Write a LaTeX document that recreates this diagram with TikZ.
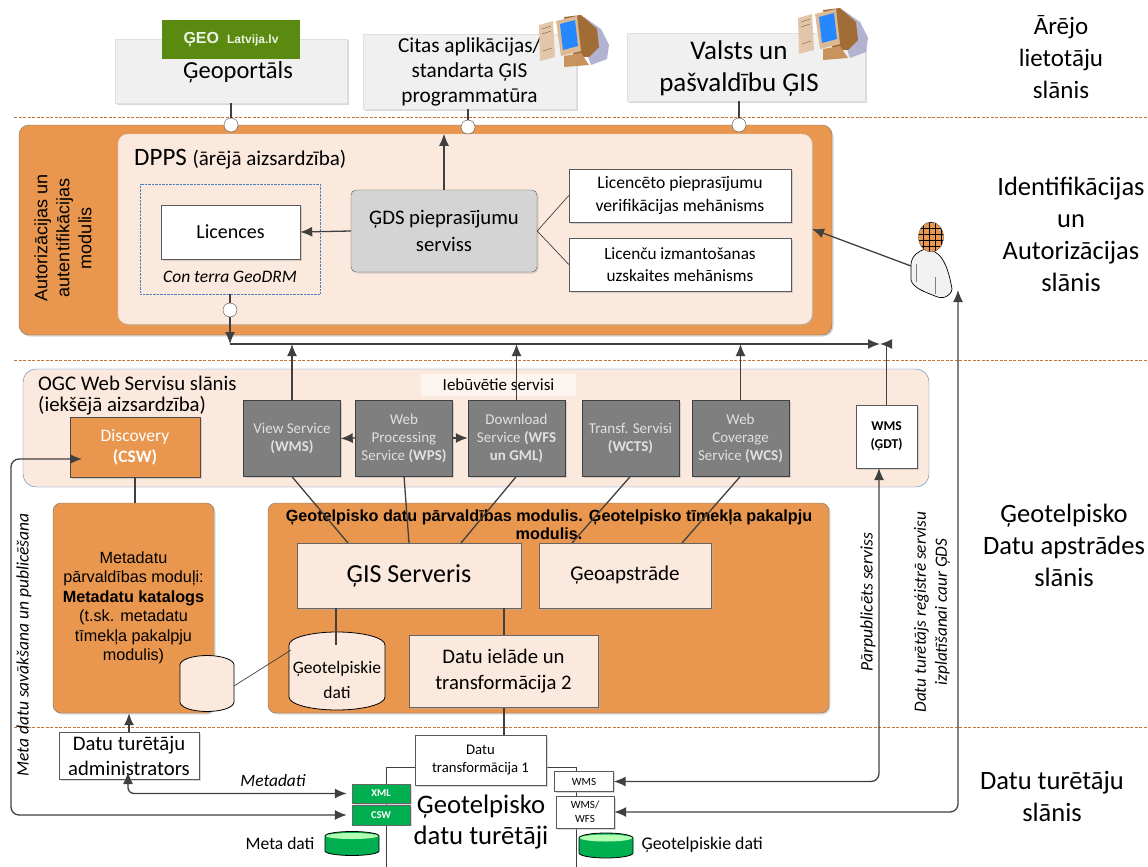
\documentclass[tikz,border=0pt]{standalone}
\usepackage{fontspec}
\setmainfont{Carlito}
\newfontfamily\arialfont{Liberation Sans}
\usetikzlibrary{arrows.meta,shadows}

\definecolor{oranzs}{HTML}{E9964F}
\definecolor{persiks}{HTML}{FBE9DD}
\definecolor{pelekais}{HTML}{7F7F7F}
\definecolor{lineja}{HTML}{404040}
\definecolor{zals}{HTML}{00B050}
\definecolor{zils}{HTML}{4F81BD}
\definecolor{logozals}{HTML}{5A8A0F}
\definecolor{raustita}{HTML}{C8773A}

\newcommand{\fsz}[2]{\fontsize{#1}{#2}\selectfont}
% center x, top y, bottom y, x radius, y radius, body colour, cap colour
\newcommand{\baze}[7]{
  \draw[fill = #6, line width=.8pt] (#1-#4,#2) -- (#1-#4,#3) arc [start angle=180, end angle=360, x radius=#4pt, y radius=#5pt]
    -- (#1+#4,#2) arc [start angle=0, end angle=180, x radius=#4pt, y radius=#5pt] -- cycle;
  \fill[#7] (#1,#2) ellipse [x radius=#4pt-1pt, y radius=#5pt-1.5pt];
}

\tikzset{x = 1pt, y = -1pt,
         >={Latex[length=12pt,width=10pt]},
         seno/.style = {drop shadow = {shadow xshift=1.5pt, shadow yshift=-1.5pt, fill=black!30}},
         slanis/.style = {draw = raustita, line width=.8pt, dash pattern=on 3pt off 1.5pt},
         savienot/.style = {draw = lineja, line width=1.3pt},
         plans/.style = {draw = lineja, line width=.7pt},
         areja/.style = {fill = black!6, draw = black!12, seno, align=center},
         modulis/.style = {fill = oranzs, draw = black!55, rounded corners=8pt, seno},
         gaisa/.style = {fill = persiks, draw = black!60, seno, align=center},
         balta/.style = {fill = white, draw = black!65, seno, align=center},
         serviss/.style = {fill = pelekais, draw = black!75, seno, align=center, text = black!12,
                           font = \fsz{15}{18}, minimum width=97pt, minimum height=76pt, inner sep=0pt},
         aplis/.style = {circle, fill = white, draw = black!70, minimum size=14pt, inner sep=0pt},
         zala/.style = {fill = zals, draw = black!60, text = white, font = \fsz{10.5}{12}\bfseries,
                        minimum width=58pt, minimum height=19.5pt, inner sep=0pt, seno},
         virsraksts/.style = {align=center},
         dators/.pic = {
           \fill[blue!40!black!30!white] (45,2) -- (62,14) -- (70,30) -- (68,44) -- (52,50) -- (45,30) -- cycle;
           \fill[brown!85!black] (25,2) -- (42,0) -- (58,14) -- (60,32) -- (50,42) -- (35,42) -- cycle;
           \fill[brown!55!white] (17,6) -- (38,1) -- (42,36) -- (22,41) -- cycle;
           \fill[blue!55!cyan!85!white] (21,9) -- (36,5) -- (39,31) -- (24,35) -- cycle;
           \fill[brown!45!white] (0,10) -- (14,6) -- (16,42) -- (1,46) -- cycle;
           \draw[brown!70!black] (3,14) -- (12,11) (3,19) -- (12,16) (4,36) -- (13,33);
           \fill[brown!85!white] (25,41) -- (42,38) -- (50,50) -- (25,52) -- cycle;
         },
         lietotajs/.pic = {
           \draw[fill = black!5, line width=.7pt] (0,42) .. controls (1,33) and (8,29) .. (14,27)
             .. controls (28,28) and (36,38) .. (41,67) .. controls (40,74) and (32,78) .. (24,74)
             .. controls (14,70) and (2,66) .. (0,58) -- cycle;
           \draw[black!50] (5,42) -- (5,60) (24,55) -- (24,72);
           \begin{scope}
             \clip (20,15) ellipse [x radius=12.5pt, y radius=15pt];
             \fill[oranzs] (5,0) rectangle (35,30);
             \draw[black, step=6pt, line width=.5pt] (5,0) grid (35,30);
           \end{scope}
           \draw[black!60] (20,15) ellipse [x radius=12.5pt, y radius=15pt];
         }
        }

\begin{document}
\begin{tikzpicture}
  \useasboundingbox (0,0) rectangle (1148,867);

  \draw[slanis] (14,117) -- (1148,117);
  \draw[slanis] (14,360) -- (1148,360);
  \draw[slanis] (14,727) -- (1148,727);

  \node[areja, minimum width=232pt, minimum height=64pt] (portals) at (231,71) {};
  \node[font=\fsz{24.5}{30}] (portalteksts) at (238,72) {Ģeoportāls};
  \node[fill = logozals, minimum width=138pt, minimum height=39pt, inner sep=0pt, text = white!90!logozals, font=\arialfont] (logo) at (231,39.5)
       {\fsz{16}{16}\bfseries ĢEO\hspace{6pt}\fsz{12}{12}\,Latvija.lv};
  \node[areja, minimum width=213pt, minimum height=67pt, font=\fsz{21.3}{25}] (citas) at (469.5,71.5) {Citas aplikācijas/\\standarta ĢIS\\programmatūra};
  \node[areja, minimum width=238pt, minimum height=68pt] (valsts) at (746,67) {};
  \node[align=center, font=\fsz{27}{32}] (valststeksts) at (739,69) {Valsts un\\pašvaldību ĢIS};
  \pic at (539,15) {dators};
  \pic at (798,8) {dators};

  \node[virsraksts, font=\fsz{25}{32}] (arejais) at (1061,57) {Ārējo\\lietotāju\\slānis};
  \node[virsraksts, font=\fsz{26.5}{32}] (ident) at (1071,234) {Identifikācijas\\un\\Autorizācijas\\slānis};
  \node[virsraksts, font=\fsz{26.5}{32}] (apstrade) at (1064,545) {Ģeotelpisko\\Datu apstrādes\\slānis};
  \node[virsraksts, font=\fsz{26.5}{32}] (turetaji) at (1052,796) {Datu turētāju\\slānis};

  \node[modulis, rounded corners=10pt, minimum width=813pt, minimum height=210pt] (autoriz) at (425.5,230) {};
  \node[fill = persiks, rounded corners=10pt, draw = black!15, seno, minimum width=694pt, minimum height=190pt] (dpps) at (465,229) {};
  \node[rotate=90, align=center, font=\arialfont\fsz{18}{22}] (autorizteksts) at (63,238) {Autorizācijas un\\autentifikācijas\\modulis};
  \node[anchor=west, inner sep=0pt] (dppsteksts) at (134,159) {\fsz{25}{30}DPPS \fsz{21}{24}(ārējā aizsardzība)};
  \node[fill = persiks, draw = zils, densely dotted, minimum width=180pt, minimum height=110pt] (drm) at (230,239) {};
  \node[balta, minimum width=139pt, minimum height=54pt, font=\fsz{20}{24}] (licences) at (230.5,232) {Licences};
  \node[font=\fsz{17.5}{18}\itshape] (drmteksts) at (230,277) {Con terra GeoDRM};
  \node[fill = black!17, draw = black!65, rounded corners=5pt, seno, align=center, minimum width=186pt, minimum height=82pt, font=\fsz{20.7}{27}] (gds) at (444,231) {ĢDS pieprasījumu\\serviss};
  \node[balta, minimum width=222pt, minimum height=53pt, font=\fsz{17.6}{23}] (verif) at (680,195.5) {Licencēto pieprasījumu\\verifikācijas mehānisms};
  \node[balta, minimum width=222pt, minimum height=53pt, font=\fsz{17.2}{22}] (uzsk) at (680,264.5) {Licenču izmantošanas\\uzskaites mehānisms};

  \node[aplis] (c1) at (231,125) {};
  \node[aplis] (c2) at (468,127) {};
  \node[aplis] (c3) at (739,125) {};
  \coordinate (bus) at (500,344);
  \coordinate (busbeigas) at (880,344);

  \pic at (911,222) {lietotajs};
  \coordinate (lietroka) at (911,266);
  \coordinate (lietkaja) at (958,290);
  \coordinate (dppsmala) at (812,229);

  \node[fill = persiks, draw = zils, rounded corners=13pt, minimum width=906pt, minimum height=118pt] (ogc) at (476,428) {};
  \node[anchor=north west, inner sep=0pt, align=left, font=\fsz{20.8}{21}] (ogcteksts) at (38,375.5) {OGC Web Servisu slānis\\(iekšējā aizsardzība)};
  \node[fill = white, fill opacity=.55, text opacity=1, minimum width=155pt, minimum height=22pt, inner sep=0pt, font=\fsz{17}{18}] (iebuvetie) at (498.5,385) {Iebūvētie servisi};
  \node[fill = oranzs, draw = black!70, seno, align=center, minimum width=130pt, minimum height=60pt, text = white, font=\fsz{17.5}{21}] (disc) at (135,447) {Discovery\\\textbf{(CSW)}};
  \node[serviss] (view) at (292,438.5) {View Service\\\textbf{(WMS)}};
  \node[serviss] (wps) at (404,438) {Web\\Processing\\Service \textbf{(WPS)}};
  \node[serviss] (wfs) at (516.5,438) {Download\\Service \textbf{(WFS}\\\textbf{un GML)}};
  \node[serviss] (wcts) at (630.5,438) {Transf. Servisi\\\textbf{(WCTS)}};
  \node[serviss] (wcs) at (740.5,438) {Web\\Coverage\\Service \textbf{(WCS)}};
  \node[balta, minimum width=61pt, minimum height=63pt, font=\fsz{13.5}{18}\bfseries, inner sep=0pt] (gdt) at (886.5,436.5) {WMS\\(ĢDT)};

  \node[modulis, align=center, minimum width=161pt, minimum height=210pt, font=\arialfont\fsz{16.2}{19.5}] (meta) at (133.5,608) {Metadatu\\pārvaldības moduļi:\\\textbf{Metadatu katalogs}\\(t.sk. metadatu\\tīmekļa pakalpju\\modulis)};
  \node[modulis, minimum width=561pt, minimum height=210pt] (gpmod) at (548.5,608) {};
  \node[anchor=north, align=center, inner sep=0pt, font=\arialfont\fsz{16.2}{18}\bfseries] (gpteksts) at (549,510) {Ģeotelpisko datu pārvaldības modulis. Ģeotelpisko tīmekļa pakalpju\\modulis.};
  \node[gaisa, minimum width=224pt, minimum height=65pt, font=\fsz{26}{30}] (gis) at (409,575.5) {\raisebox{-2pt}{ĢIS Serveris}};
  \node[gaisa, minimum width=172pt, minimum height=65pt, font=\fsz{21}{24}] (geoapstr) at (625,575.5) {\raisebox{-2pt}{Ģeoapstrāde}};
  \baze{337}{645}{697}{48}{13}{persiks}{persiks}
  \node[align=center, font=\fsz{17.5}{25}] (gpdati) at (337,679.5) {Ģeotelpiskie\\dati};
  \baze{207}{665}{702}{27}{9.5}{persiks}{persiks}
  \node[gaisa, minimum width=189pt, minimum height=72pt, font=\fsz{20.7}{26}] (ielade) at (503.5,671.5) {Datu ielāde un\\transformācija 2};

  \node[balta, minimum width=140pt, minimum height=47pt, font=\fsz{20.7}{25}] (adm) at (129,755.5) {Datu turētāju\\administrators};
  \draw[plans] (386,867) -- (386,767) -- (415,767);
  \draw[plans] (546,767) -- (576,767) -- (576,867);
  \node[balta, minimum width=131pt, minimum height=50pt, font=\fsz{14.7}{18}] (transf) at (480.5,760) {Datu\\transformācija 1};
  \node[font=\fsz{26.7}{31}, align=center] (turetajuteksts) at (481,822) {Ģeotelpisko\\datu turētāji};
  \node[zala] (xml) at (381,793.5) {XML};
  \node[zala] (csw) at (381,815) {CSW};
  \node[balta, minimum width=59pt, minimum height=20pt, font=\fsz{11}{13}, inner sep=0pt] (wms) at (584,781.5) {WMS};
  \node[balta, minimum width=58pt, minimum height=32pt, font=\fsz{11}{14}, inner sep=0pt] (wmswfs) at (585,812) {WMS/\\WFS};
  \baze{352}{836}{851}{27}{4.5}{zals}{green!30}
  \node[anchor=east, font=\fsz{17.5}{20}] (metateksts) at (318,843) {Meta dati};
  \baze{606}{838}{853}{27}{5}{zals}{green!30}
  \node[anchor=west, font=\fsz{17.8}{20}] (gpcilteksts) at (638,845) {Ģeotelpiskie dati};

  \node[font=\fsz{17.4}{18}\itshape] (metadatiteksts) at (273,781) {Metadati};
  \node[rotate=90, font=\fsz{17.5}{18}\itshape] (savaksana) at (24,645) {Meta datu savākšana un publicēšana};
  \node[rotate=90, font=\fsz{17.6}{18}\itshape] (parpubl) at (868,602) {Pārpublicēts serviss};
  \node[rotate=90, align=center, font=\fsz{17.2}{21}\itshape] (registre) at (932,612) {Datu turētājs reģistrē servisu\\izplatīšanai caur ĢDS};

  \draw[savienot] (c1 |- portals.south) -- (c1);
  \draw[savienot] (c2 |- citas.south) -- (c2);
  \draw[savienot] (c3 |- valsts.south) -- (c3);
  \draw[savienot, ->] (gds.north) -- (gds.north |- dpps.north);
  \draw[savienot, ->] (gds.west) -- (licences.east);
  \draw[plans] (gds.east) -- (verif.west);
  \draw[plans] (gds.east) -- (uzsk.west);
  \draw[savienot, ->] (lietroka) -- (dppsmala);
  \draw[savienot, ->] (drm.south) -- (drm.south |- bus);
  \draw[savienot, ->] (drm.south |- bus) -- (busbeigas);
  \draw[savienot, ->] (view.north) -- (view.north |- bus);
  \draw[savienot, ->] (wfs.north) -- (wfs.north |- bus);
  \draw[savienot, ->] (wcs.north) -- (wcs.north |- bus);
  \draw[savienot, ->] (gdt.north) |- (busbeigas);
  \node[aplis] (c4) at (230,310) {};

  \draw[savienot, ->] (wps.west) -- (view.east);
  \draw[savienot, ->] (wps.east) -- (wfs.west);

  \coordinate (gisa) at (348,543);
  \coordinate (gisb) at (409,543);
  \coordinate (gisc) at (461,543);
  \coordinate (geoa) at (572,543);
  \coordinate (geob) at (682,543);
  \draw[savienot] (view.south) -- (gisa);
  \draw[savienot] (wps.south) -- (gisb);
  \draw[savienot] (wfs.south) -- (gisc);
  \draw[savienot] (wcts.south) -- (geoa);
  \draw[savienot] (wcs.south) -- (geob);
  \draw[savienot] (disc.south) -- (disc.south |- meta.north);
  \coordinate (gpaugsa) at (336,645);
  \draw[savienot] (gpaugsa |- gis.south) -- (gpaugsa);
  \draw[savienot] (ielade.north -| 504,0) -- (504,0 |- gis.south);
  \draw[savienot] (transf.north -| 504,0) -- (504,0 |- ielade.south);
  \coordinate (baze) at (234,686);
  \coordinate (gpkreisa) at (291,650);
  \draw[plans] (baze) -- (gpkreisa);

  \draw[savienot, ->] (adm.north) -- (adm.north |- meta.south);
  \coordinate (admapaksa) at (128,772);
  \coordinate (discieeja) at (82,459);
  \coordinate (kreisamala) at (11,637);
  \coordinate (gdtieeja) at (879,468);
  \draw[savienot, <->, rounded corners=6pt, shorten >=5pt] (admapaksa) |- (xml.west);
  \draw[savienot, <->, rounded corners=8pt, shorten <=5pt] (csw.west) -| (kreisamala) |- (discieeja);
  \draw[savienot, <->, rounded corners=8pt] (wms.east) -| (gdtieeja);
  \draw[savienot, <->, rounded corners=8pt] (wmswfs.east) -| (lietkaja);
\end{tikzpicture}
\end{document}
